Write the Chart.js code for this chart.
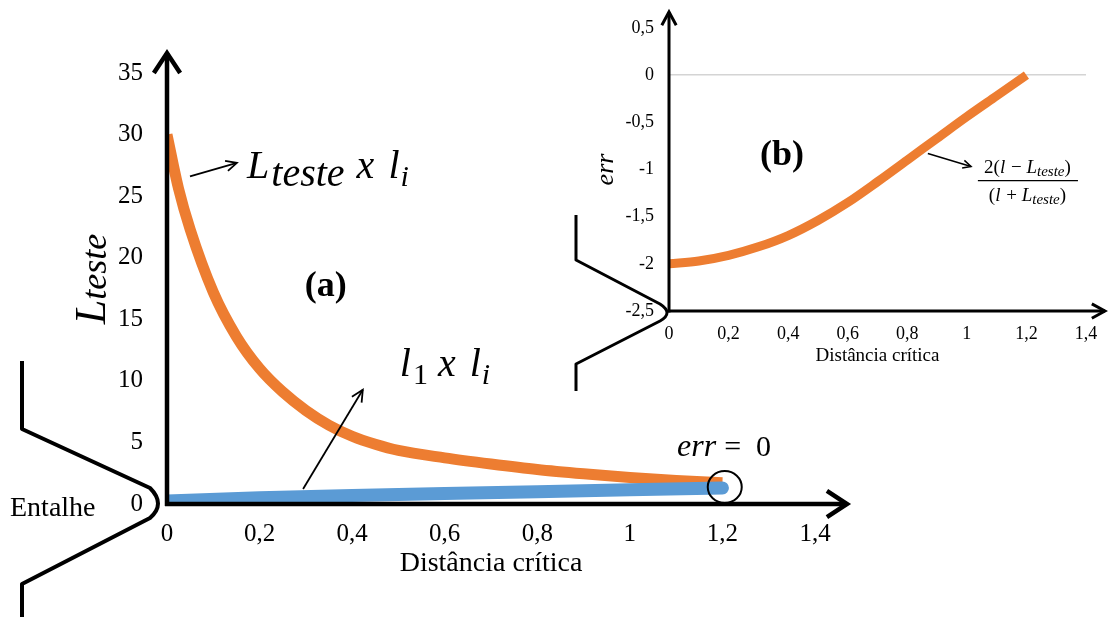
<!DOCTYPE html>
<html><head><meta charset="utf-8">
<script src="https://cdn.jsdelivr.net/npm/chart.js@4.4.1/dist/chart.umd.min.js"></script>
<style>
html,body{margin:0;padding:0;background:#fff;}
#wrap{position:relative;width:1108px;height:617px;overflow:hidden;background:#fff;}
#cA{position:absolute;left:0;top:0;}
#cB{position:absolute;left:560px;top:0;}
</style></head><body>
<div id="wrap"><canvas id="cA" width="1108" height="617"></canvas><canvas id="cB" width="548" height="400"></canvas></div>
<script>
// ---- data (a) ----
const distL  = [0, 0.025, 0.05, 0.1, 0.15, 0.2, 0.25, 0.3, 0.35, 0.4, 0.45, 0.5, 0.6, 0.7, 0.8, 0.9, 1.0, 1.1, 1.2];
const lTeste = [30, 25.6, 22.3, 17.2, 13.6, 11.0, 9.1, 7.6, 6.4, 5.5, 4.85, 4.35, 3.75, 3.25, 2.8, 2.45, 2.15, 1.9, 1.72];
const distL1 = [0, 0.2, 0.4, 0.6, 0.8, 1.0, 1.2];
const l1     = [0.25, 0.5, 0.7, 0.85, 1.0, 1.15, 1.3];
// ---- data (b) ----
const distErr = [0, 0.1, 0.2, 0.3, 0.4, 0.5, 0.6, 0.7, 0.8, 0.9, 1.0, 1.1, 1.2];
const errVals = [-2.0, -1.97, -1.91, -1.82, -1.70, -1.54, -1.35, -1.13, -0.90, -0.67, -0.44, -0.22, 0];
// ---- ticks ----
const xTickVals   = [0, 0.2, 0.4, 0.6, 0.8, 1, 1.2, 1.4];
const xTickLabels = ['0', '0,2', '0,4', '0,6', '0,8', '1', '1,2', '1,4'];
const yTickValsA  = [0, 5, 10, 15, 20, 25, 30, 35];
const yTickLabelsA= ['0', '5', '10', '15', '20', '25', '30', '35'];
const yTickValsB  = [-2.5, -2, -1.5, -1, -0.5, 0, 0.5];
const yTickLabelsB= ['-2,5', '-2', '-1,5', '-1', '-0,5', '0', '0,5'];

const SERIF = '"Liberation Serif", "Times New Roman", serif';
const ORANGE = '#ED7D31', BLUE = '#5B9BD5';

function seg(ctx, x1, y1, x2, y2){ctx.beginPath();ctx.moveTo(x1,y1);ctx.lineTo(x2,y2);ctx.stroke();}
function head(ctx, x1, y1, x2, y2, len, ang){
  const a = Math.atan2(y2-y1, x2-x1);
  ctx.beginPath();
  ctx.moveTo(x2 - len*Math.cos(a-ang), y2 - len*Math.sin(a-ang));
  ctx.lineTo(x2, y2);
  ctx.lineTo(x2 - len*Math.cos(a+ang), y2 - len*Math.sin(a+ang));
  ctx.stroke();
}
function arrow(ctx, x1, y1, x2, y2, len, ang){seg(ctx,x1,y1,x2,y2);head(ctx,x1,y1,x2,y2,len,ang);}
function fontOf(p){return (p.it?'italic ':'')+(p.b?'bold ':'')+p.size+'px '+SERIF;}
function runsWidth(ctx, parts){let w=0;for(const p of parts){ctx.font=fontOf(p);w+=ctx.measureText(p.t).width+(p.gap||0);}return w;}
function drawRuns(ctx, x, y, parts, align){
  if(align==='center') x -= runsWidth(ctx, parts)/2;
  ctx.textBaseline='alphabetic'; ctx.textAlign='left';
  for(const p of parts){ctx.font=fontOf(p);ctx.fillText(p.t, x, y+(p.dy||0));x+=ctx.measureText(p.t).width+(p.gap||0);}
}

const annotA = {
  id:'annotA',
  afterDatasetsDraw(chart){
    const {ctx, scales:{x, y}} = chart;
    const X = v => x.getPixelForValue(v), Y = v => y.getPixelForValue(v);
    const x0 = X(0), y0 = Y(0);
    ctx.save();
    ctx.strokeStyle = '#000'; ctx.fillStyle = '#000';
    ctx.lineJoin = 'miter'; ctx.lineCap = 'butt';
    // axes with arrows
    ctx.lineWidth = 4.5;
    seg(ctx, x0, y0 + 2, x0, y.top - 20);
    head(ctx, x0, y0, x0, y.top - 20, 24, 0.58);
    seg(ctx, x0 - 2, y0, x.right + 32, y0);
    head(ctx, x0, y0, x.right + 32, y0, 24, 0.58);
    // notch (entalhe)
    const tx = x0 - 9, ty = y0;
    ctx.lineWidth = 4; ctx.lineJoin = 'round';
    ctx.beginPath();
    ctx.moveTo(tx - 136, ty - 143);
    ctx.lineTo(tx - 136, ty - 75);
    ctx.lineTo(tx - 8, ty - 16);
    ctx.quadraticCurveTo(tx + 8, ty, tx - 8, ty + 14);
    ctx.lineTo(tx - 136, ty + 80);
    ctx.lineTo(tx - 136, ty + 130);
    ctx.stroke();
    ctx.font = '28px ' + SERIF; ctx.textAlign = 'left'; ctx.textBaseline = 'alphabetic';
    ctx.fillText('Entalhe', tx - 148, ty + 12);
    // y title L_teste (rotated)
    ctx.save();
    ctx.translate(105, 279); ctx.rotate(-Math.PI/2);
    drawRuns(ctx, 0, 0, [{t:'L', it:1, size:44}, {t:'teste', it:1, size:36, dy:1}], 'center');
    ctx.restore();
    // arrow + label L_teste x l_i
    ctx.lineWidth = 1.8; ctx.lineJoin = 'miter';
    arrow(ctx, X(0.0497), Y(26.6), X(0.151), Y(27.7), 12, 0.45);
    drawRuns(ctx, X(0.173), Y(26.45), [
      {t:'L', it:1, size:40, gap:2}, {t:'teste', it:1, size:40, dy:8, gap:2},
      {t:' x ', it:1, size:40, gap:4}, {t:'l', it:1, size:40, gap:1}, {t:'i', it:1, size:30, dy:8}]);
    // (a)
    ctx.font = 'bold 36px ' + SERIF; ctx.textAlign = 'center'; ctx.textBaseline = 'middle';
    ctx.fillText('(a)', X(0.343), Y(17.66));
    // label l_1 x l_i and arrow
    drawRuns(ctx, X(0.503), Y(10.42), [
      {t:'l', it:1, size:40, gap:2}, {t:'1', size:30, dy:8},
      {t:' x ', it:1, size:40, gap:4}, {t:'l', it:1, size:40, gap:1}, {t:'i', it:1, size:30, dy:8}]);
    arrow(ctx, X(0.294), Y(1.22), X(0.423), Y(9.28), 13, 0.45);
    // err = 0 and circle
    drawRuns(ctx, X(1.102), Y(3.9), [{t:'err', it:1, size:32, gap:8}, {t:'=', size:30, gap:15}, {t:'0', size:30}]);
    ctx.lineWidth = 2;
    ctx.beginPath(); ctx.ellipse(X(1.205), Y(1.38), 17, 16, 0, 0, Math.PI*2); ctx.stroke();
    ctx.restore();
  }
};

const annotB = {
  id:'annotB',
  afterDatasetsDraw(chart){
    const {ctx, scales:{x, y}} = chart;
    const X = v => x.getPixelForValue(v), Y = v => y.getPixelForValue(v);
    const x0 = X(0), yb = Y(-2.5);
    ctx.save();
    ctx.strokeStyle = '#000'; ctx.fillStyle = '#000';
    ctx.lineWidth = 3; ctx.lineJoin = 'miter';
    seg(ctx, x0, yb + 1.5, x0, 12);
    head(ctx, x0, yb, x0, 12, 15, 0.5);
    seg(ctx, x0 - 1.5, yb, x.right + 19, yb);
    head(ctx, x0, yb, x.right + 19, yb, 15, 0.5);
    // notch
    const tx = x0 - 1, ty = yb;
    ctx.lineJoin = 'round';
    ctx.beginPath();
    ctx.moveTo(tx - 92, ty - 96);
    ctx.lineTo(tx - 92, ty - 51);
    ctx.lineTo(tx - 8, ty - 7);
    ctx.quadraticCurveTo(tx + 6, ty + 2, tx - 8, ty + 10);
    ctx.lineTo(tx - 92, ty + 53);
    ctx.lineTo(tx - 92, ty + 80);
    ctx.stroke();
    // (b)
    ctx.font = 'bold 36px ' + SERIF; ctx.textAlign = 'center'; ctx.textBaseline = 'middle';
    ctx.fillText('(b)', X(0.379), Y(-0.851));
    // arrow + fraction
    ctx.lineWidth = 1.5; ctx.lineJoin = 'miter';
    arrow(ctx, X(0.869), Y(-0.83), X(1.014), Y(-0.968), 9, 0.45);
    const cx = X(1.2035), ly = Y(-1.117);
    drawRuns(ctx, cx, Y(-1.032), [{t:'2(', size:19}, {t:'l', it:1, size:19, gap:1}, {t:' \u2212 ', size:19}, {t:'L', it:1, size:19}, {t:'teste', it:1, size:15, dy:3}, {t:')', size:19}], 'center');
    ctx.lineWidth = 1.2; seg(ctx, X(1.037), ly, X(1.373), ly);
    drawRuns(ctx, cx, Y(-1.33), [{t:'(', size:19}, {t:'l', it:1, size:19, gap:1}, {t:' + ', size:19}, {t:'L', it:1, size:19}, {t:'teste', it:1, size:15, dy:3}, {t:')', size:19}], 'center');
    ctx.restore();
  }
};

function tickAxis(vals, labels, size, pad){
  return {
    afterBuildTicks: s => { s.ticks = vals.map(v => ({value: v})); },
    ticks: {callback: (v, i) => labels[i], font: {family: SERIF, size: size}, color: '#000', padding: pad, maxRotation: 0, autoSkip: false},
    border: {display: false}
  };
}

new Chart(document.getElementById('cA'), {
  type: 'line',
  data: {datasets: [
    {label: 'l1 x li', data: distL1.map((v, i) => ({x: v, y: l1[i]})), borderColor: BLUE, borderWidth: 13, borderCapStyle: 'round', pointRadius: 0, tension: 0, order: 0},
    {label: 'Lteste x li', data: distL.map((v, i) => ({x: v, y: lTeste[i]})), borderColor: ORANGE, borderWidth: 11, pointRadius: 0, cubicInterpolationMode: 'monotone', order: 1}
  ]},
  options: {
    responsive: false, animation: false, events: [],
    layout: {padding: {left: 0, right: 293, top: 73, bottom: 617 - 504 - 76}},
    plugins: {legend: {display: false}, tooltip: {enabled: false}},
    scales: {
      x: Object.assign(tickAxis(xTickVals, xTickLabels, 25, 7), {
        type: 'linear', min: 0, max: 1.4, grid: {display: false},
        title: {display: true, text: 'Distância crítica', color: '#000', font: {family: SERIF, size: 28}, padding: 0},
        afterFit: s => { s.height = 76; }
      }),
      y: Object.assign(tickAxis(yTickValsA, yTickLabelsA, 25, 16), {
        type: 'linear', min: 0, max: 35, grid: {display: false},
        afterFit: s => { s.width = 167; }
      })
    }
  },
  plugins: [annotA]
});

new Chart(document.getElementById('cB'), {
  type: 'line',
  data: {datasets: [
    {label: 'err', data: distErr.map((v, i) => ({x: v, y: errVals[i]})), borderColor: ORANGE, borderWidth: 9, pointRadius: 0, cubicInterpolationMode: 'monotone'}
  ]},
  options: {
    responsive: false, animation: false, events: [],
    layout: {padding: {left: 0, right: 22, top: 28, bottom: 400 - 311 - 56}},
    plugins: {legend: {display: false}, tooltip: {enabled: false}},
    scales: {
      x: Object.assign(tickAxis(xTickVals, xTickLabels, 18, 4), {
        type: 'linear', min: 0, max: 1.4, grid: {display: false},
        title: {display: true, text: 'Distância crítica', color: '#000', font: {family: SERIF, size: 19}, padding: 0},
        afterFit: s => { s.height = 56; }
      }),
      y: Object.assign(tickAxis(yTickValsB, yTickLabelsB, 18, 15), {
        type: 'linear', min: -2.5, max: 0.5,
        grid: {drawTicks: false, lineWidth: 1.5, color: c => (c.tick && c.tick.value === 0) ? '#d4d4d4' : 'rgba(0,0,0,0)'},
        title: {display: true, text: 'err', color: '#000', font: {family: SERIF, size: 26, style: 'italic'}, padding: {top: 31, bottom: 0}},
        afterFit: s => { s.width = 109; }
      })
    }
  },
  plugins: [annotB]
});
</script>
</body></html>
